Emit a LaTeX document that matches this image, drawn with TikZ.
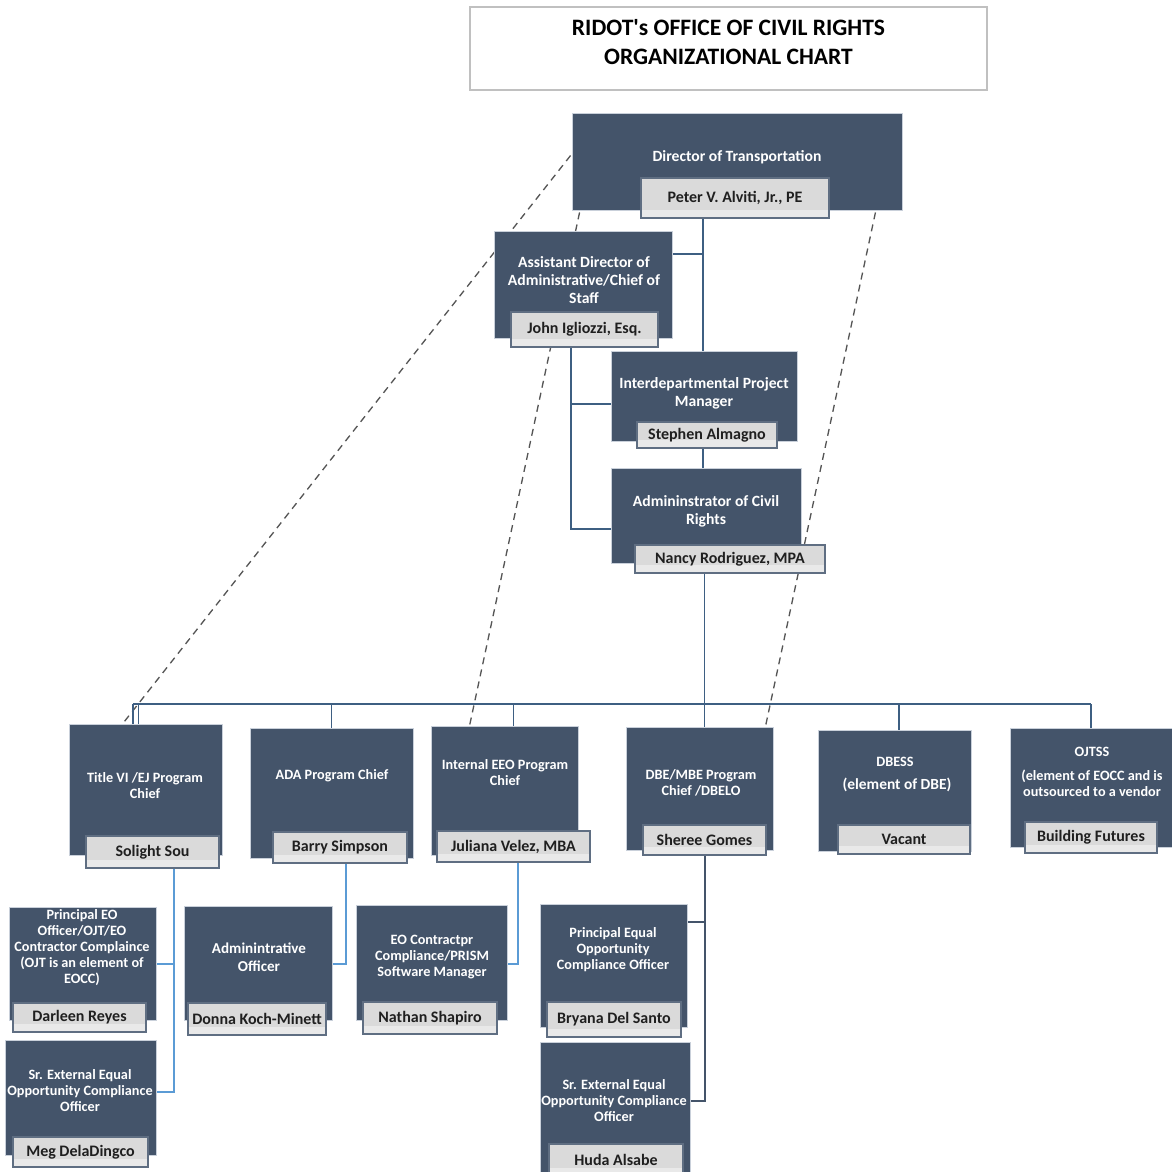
\documentclass[tikz,border=0pt]{standalone}
\usepackage{fontspec}
\setmainfont{Carlito}
\usetikzlibrary{calc,backgrounds}
\definecolor{boxfill}{HTML}{44546A}
\definecolor{boxedge}{HTML}{C9D0DA}
\definecolor{nbg}{HTML}{DADADA}
\definecolor{nlow}{HTML}{E9E9E9}
\definecolor{nedge}{HTML}{5F6E82}
\definecolor{conndark}{HTML}{3E5F82}
\definecolor{connlight}{HTML}{5B9BD5}
\definecolor{connslate}{HTML}{44546A}
\definecolor{dashcol}{HTML}{555555}
\definecolor{titleedge}{HTML}{C0C0C0}
\tikzset{
  pbox/.style={draw=boxedge, line width=0.5pt, fill=boxfill, inner sep=0pt},
  nbox/.style={draw=nedge, line width=0.8pt, fill=nbg, inner sep=0pt,
    text=black!88, font=\bfseries\fontsize{9.1}{10}\selectfont,
    path picture={\fill[nlow] ([yshift=4.5pt]path picture bounding box.south west) rectangle (path picture bounding box.south east);}},
  wtm/.style={text=white, align=center, inner sep=0pt, font=\bfseries\fontsize{8.9}{10.2}\selectfont},
  wtb/.style={text=white, align=center, inner sep=0pt, font=\bfseries\fontsize{8.1}{9.1}\selectfont},
  conn/.style={draw=conndark, line width=0.8pt},
  connl/.style={draw=connlight, line width=0.8pt},
  conns/.style={draw=connslate, line width=0.8pt},
  dashln/.style={draw=dashcol, line width=0.75pt, dash pattern=on 4pt off 3pt},
}
\newcommand\pbx[5]{\node[pbox, minimum width={(#4-#2)*0.02cm}, minimum height={(#5-#3)*0.02cm}] (#1) at ({(#2+#4)/2},{(#3+#5)/2}) {};}
\newcommand\nbx[6]{\node[nbox, minimum width={(#4-#2)*0.02cm}, minimum height={(#5-#3)*0.02cm}] (#1) at ({(#2+#4)/2},{(#3+#5)/2}) {#6};}
\newcommand\straightq{{\addfontfeature{Ligatures=TeXOff}'}}
\begin{document}
\begin{tikzpicture}[x=0.02cm,y=-0.02cm]
\useasboundingbox (0,0) rectangle (1172,1171);

% title
\node[draw=titleedge, line width=1pt, fill=white, minimum width={517*0.02cm}, minimum height={83*0.02cm}] (tbox) at (728.5,48.5) {};
\node[align=center, inner sep=0pt, font=\bfseries\fontsize{13.4}{16.4}\selectfont] (ttl) at (728.5,42) {RIDOT\straightq s OFFICE OF CIVIL RIGHTS\\ORGANIZATIONAL CHART};

% upper hierarchy
\pbx{dir}{572}{113}{902}{210}
\node[wtm] (tdir) at (737,157) {Director of Transportation};
\nbx{pn}{641}{178}{829}{218}{Peter V. Alviti, Jr., PE}

\pbx{asst}{494}{231}{672}{338}
\node[wtm] (tasst) at (584,280) {Assistant Director of\\Administrative/Chief of\\Staff};
\nbx{jn}{511}{312}{658}{347}{John Igliozzi, Esq.}

\pbx{ipm}{611}{351}{797}{441}
\node[wtm] (tipm) at (704,393) {Interdepartmental Project\\Manager};
\nbx{sn}{637}{422}{777}{448}{Stephen Almagno}

\pbx{acr}{611}{468}{801}{563}
\node[wtm] (tacr) at (706,511) {Admininstrator of Civil\\Rights};
\nbx{nn}{635}{545}{825}{573}{Nancy Rodriguez, MPA}

% program chiefs
\pbx{t6}{69}{724}{222}{855}
\node[wtb] (tt6) at (145,786) {Title VI /EJ Program\\Chief};
\nbx{ss}{86}{836}{219}{868}{Solight Sou}

\pbx{ada}{250}{728}{413}{858}
\node[wtb] (tada) at (332,776) {ADA Program Chief};
\nbx{bs}{273}{832}{407}{863}{Barry Simpson}

\pbx{eeo}{431}{726}{578}{855}
\node[wtb] (teeo) at (505,773) {Internal EEO Program\\Chief};
\nbx{jv}{437}{831}{590}{862}{Juliana Velez, MBA}

\pbx{dbe}{626}{727}{773}{850}
\node[wtb] (tdbe) at (701,783) {DBE/MBE Program\\Chief /DBELO};
\nbx{sg}{643}{825}{766}{855}{Sheree Gomes}

\pbx{dbess}{818}{730}{971}{851}
\node[wtb] (tdbess1) at (895,762) {DBESS};
\node[wtm, font=\bfseries\fontsize{8.8}{10}\selectfont] (tdbess2) at (897,785) {(element of DBE)};
\nbx{va}{838}{825}{970}{854}{Vacant}

\pbx{ojt}{1010}{728}{1172}{847}
\node[wtb] (tojt1) at (1092,752) {OJTSS};
\node[wtb] (tojt2) at (1092,783) {(element of EOCC and is\\outsourced to a vendor};
\nbx{bf}{1025}{822}{1157}{853}{Building Futures}

% staff
\pbx{dr}{9}{907}{156}{1020}
\node[wtb] (tdr) at (82,948) {Principal EO\\Officer/OJT/EO\\Contractor Complaince\\(OJT is an element of\\EOCC)};
\nbx{drn}{13}{1003}{146}{1032}{Darleen Reyes}

\pbx{mg}{5}{1040}{156}{1155}
\node[wtb] (tmg) at (80,1091) {Sr. External Equal\\Opportunity Compliance\\Officer};
\nbx{mgn}{13}{1137}{148}{1167}{Meg DelaDingco}

\pbx{ao}{184}{906}{332}{1020}
\node[wtm, font=\bfseries\fontsize{8.6}{10.2}\selectfont] (tao) at (259,957) {Adminintrative\\Officer};
\nbx{aon}{188}{1003}{326}{1035}{Donna Koch-Minett}

\pbx{ns}{356}{905}{507}{1020}
\node[wtb] (tns) at (432,957) {EO Contractpr\\Compliance/PRISM\\Software Manager};
\nbx{nsn}{363}{1002}{497}{1034}{Nathan Shapiro}

\pbx{bd}{540}{904}{687}{1027}
\node[wtb] (tbd) at (613,950) {Principal Equal\\Opportunity\\Compliance Officer};
\nbx{bdn}{547}{1002}{681}{1037}{Bryana Del Santo}

\pbx{ha}{540}{1042}{690}{1176}
\node[wtb] (tha) at (614,1101) {Sr. External Equal\\Opportunity Compliance\\Officer};
\nbx{han}{549}{1144}{683}{1176}{Huda Alsabe}

% connectors behind boxes
\begin{pgfonlayer}{background}
\fill[white] (0,0) rectangle (1172,1171);
% dashed relations
\draw[dashln] ($(dir.west)+(-1,-6)$) -- ($(t6.north west)+(55,-1)$);
\draw[dashln] ($(dir.south west)+(8,2)$) -- ($(eeo.north west)+(39,0)$);
\draw[dashln] ($(dir.south east)+(-27,2)$) -- ($(dbe.north east)+(-8,0)$);

% director line
\coordinate (j1) at (703,254);
\draw[conn] (pn.south -| j1) -- (ipm.north -| j1);
\draw[conn] (asst.east |- j1) -- (j1);
\draw[conn] (sn.south -| j1) -- (acr.north -| j1);

% assistant director
\coordinate (j2) at (571,529);
\coordinate (j3) at (571,404);
\draw[conn] (jn.south -| j2) -- (j2) -- (acr.west |- j2);
\draw[conn] (j3) -- (ipm.west |- j3);

% bus
\coordinate (bL) at (133,704);
\coordinate (bR) at (1091,704);
\coordinate (vd) at (899,704);
\draw[conn] (bL) -- (bR);
\draw[conn] (bL) -- (t6.north -| bL);
\draw[conn] ([xshift=3]bL) -- ([xshift=3]t6.north -| bL);
\draw[conn] (nn.south -| sg.north) -- (dbe.north -| sg.north);
\draw[conn] (ada.north |- bL) -- (ada.north);
\draw[conn] (jv.north |- bL) -- (eeo.north -| jv.north);
\draw[conn] (vd) -- (dbess.north -| vd);
\draw[conn] (bR) -- (ojt.north -| bR);

% staff connectors
\coordinate (k1) at (174,964);
\coordinate (k2) at (174,1092);
\draw[connl] (ss.south -| k1) -- (k2) -- (mg.east |- k2);
\draw[connl] (k1) -- (dr.east |- k1);
\coordinate (k3) at (346,964);
\draw[connl] (bs.south -| k3) -- (k3) -- (ao.east |- k3);
\coordinate (k4) at (518,964);
\draw[connl] (jv.south -| k4) -- (k4) -- (ns.east |- k4);
\coordinate (k5) at (705,922);
\coordinate (k6) at (705,1101);
\draw[conns] (sg.south -| k5) -- (k6) -- (ha.east |- k6);
\draw[conns] (k5) -- (bd.east |- k5);
\end{pgfonlayer}
\end{tikzpicture}
\end{document}
